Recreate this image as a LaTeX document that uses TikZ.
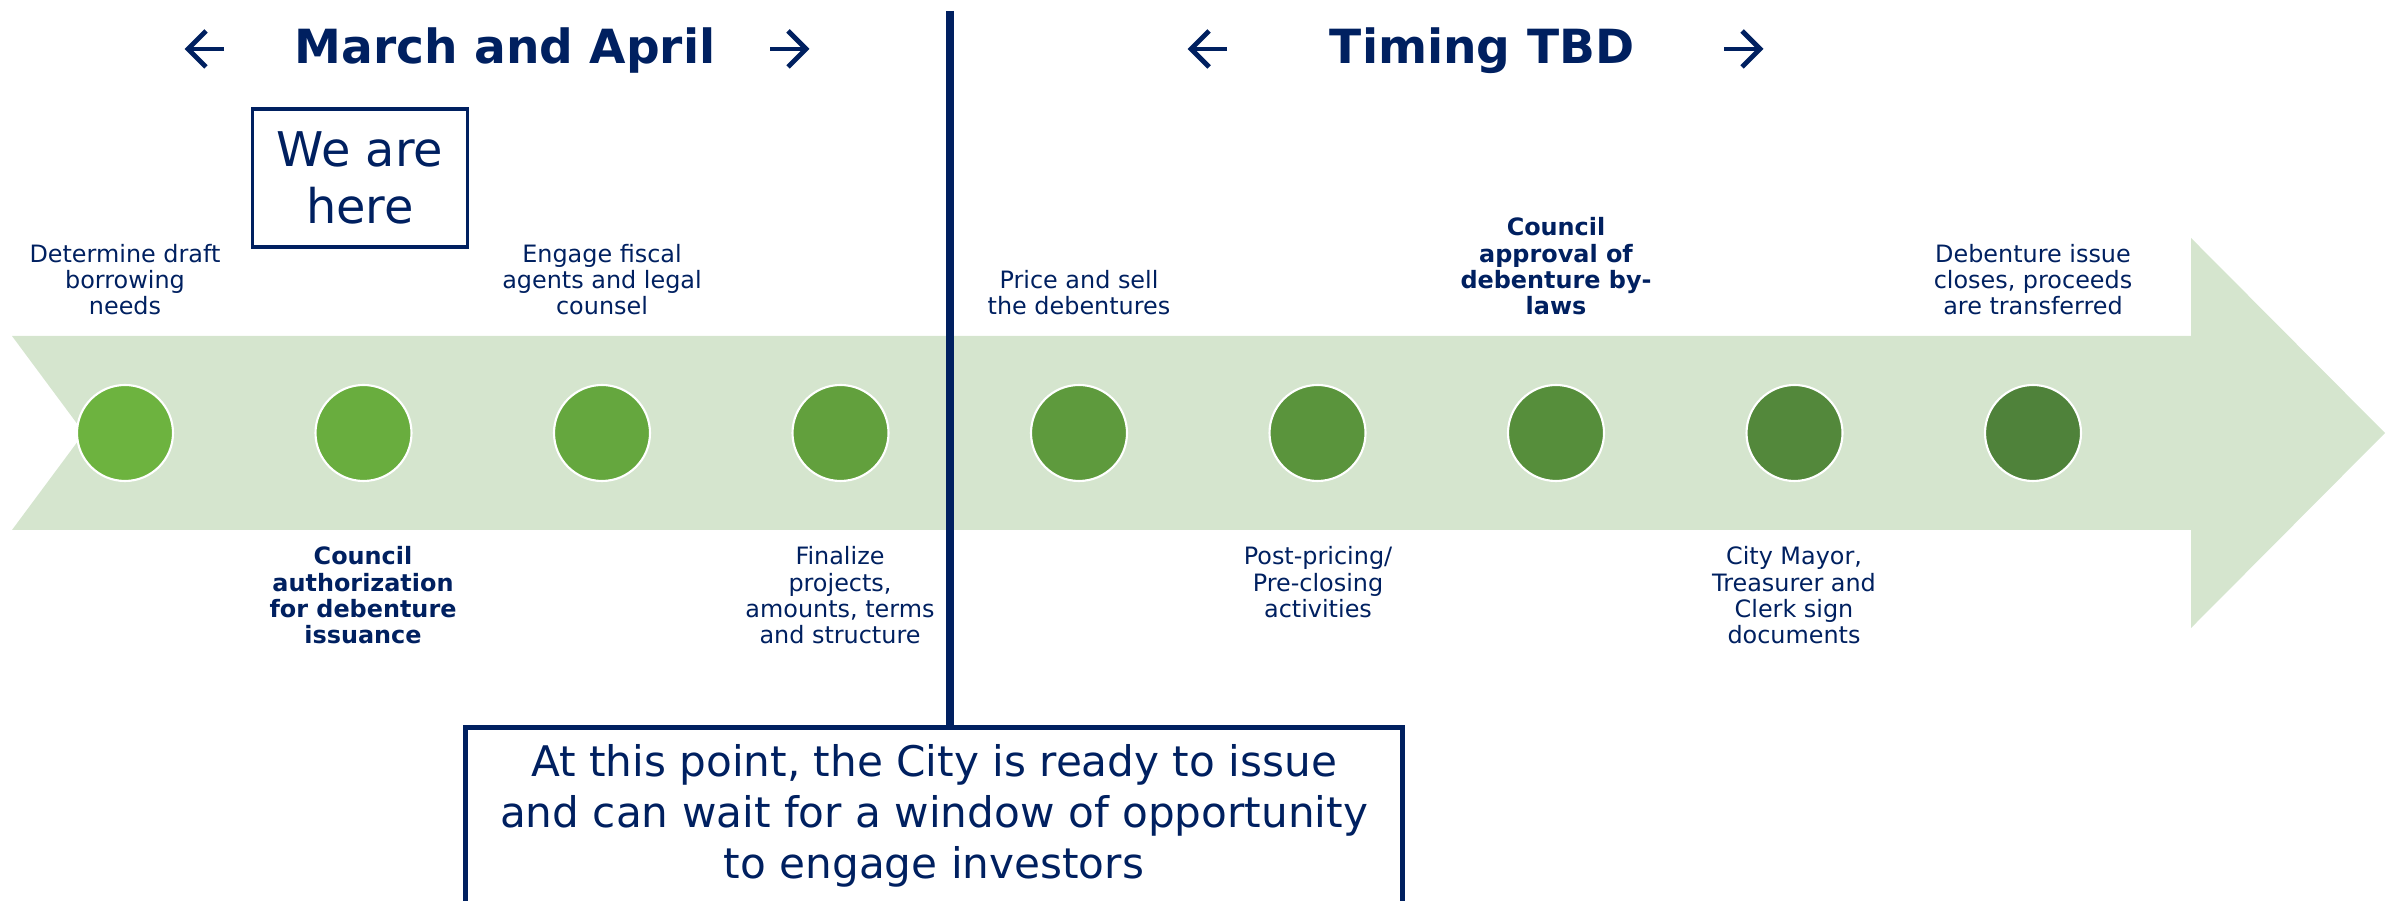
\documentclass[tikz,border=0pt]{standalone}
\usepackage{fontspec}
\setmainfont{DejaVu Sans}
\usetikzlibrary{positioning}
\definecolor{navy}{RGB}{0,32,96}
\definecolor{band}{RGB}{213,229,206}
\definecolor{dotfirst}{RGB}{109,179,63}
\definecolor{dotlast}{RGB}{79,130,58}

\begin{document}
\begin{tikzpicture}[x=0.1mm, y=-0.1mm,
    dot/.style={circle, fill=#1, draw=white, line width=0.6pt,
        minimum size=9.6mm, inner sep=0pt},
    lbl/.style={text=navy, align=center, inner sep=0pt,
        font=\fontsize{6.8}{7.5}\selectfont},
    head/.style={text=navy, inner sep=0pt,
        font=\fontsize{13.4}{16}\selectfont\bfseries},
    chevron/.style={draw=navy, line width=1.4pt, miter limit=4},
    frame/.style={draw=navy, text=navy, align=center, inner sep=0pt}]
    \useasboundingbox (0,0) rectangle (2394,901);
    % timeline arrow
    \fill[band] (12,336) -- (2191,336) -- (2191,238) -- (2385,433)
        -- (2191,628) -- (2191,530) -- (12,530) -- (84,433) -- cycle;
    % headings
    \node[head] (march) at (505,51) {March and April};
    \node[head] (tbd) at (1482,51) {Timing TBD};
    \foreach \x/\d in {205/1, 789/-1, 1208/1, 1743/-1}{
        \draw[chevron] (\x+19*\d,49) -- (\x-17*\d,49);
        \draw[chevron] (\x+1*\d,31) -- (\x-17*\d,49) -- (\x+1*\d,67);
    }
    % milestones
    \foreach \i in {0,...,8}{
        \pgfmathtruncatemacro\mix{100-12.5*\i}
        \node[dot=dotfirst!\mix!dotlast] (m\i) at (125+238.5*\i,433) {};
    }
    \node[lbl, anchor=south] (t0) at (125,316) {Determine draft\\borrowing\\needs};
    \node[lbl, anchor=south] (t2) at (602,316) {Engage fiscal\\agents and legal\\counsel};
    \node[lbl, anchor=south] (t4) at (1079,316) {Price and sell\\the debentures};
    \node[lbl, anchor=south, font=\fontsize{6.8}{7.5}\selectfont\bfseries]
        (t6) at (1556,316) {Council\\approval of\\debenture by-\\laws};
    \node[lbl, anchor=south] (t8) at (2033,316) {Debenture issue\\closes, proceeds\\are transferred};
    \node[lbl, anchor=north, font=\fontsize{6.8}{7.5}\selectfont\bfseries]
        (b1) at (363,546) {Council\\authorization\\for debenture\\issuance};
    \node[lbl, anchor=north] (b3) at (840,546) {Finalize\\projects,\\amounts, terms\\and structure};
    \node[lbl, anchor=north] (b5) at (1318,546) {Post-pricing/\\Pre-closing\\activities};
    \node[lbl, anchor=north] (b7) at (1794,546) {City Mayor,\\Treasurer and\\Clerk sign\\documents};
    % callouts
    \node[frame, line width=1.1pt, minimum width=21.5mm, minimum height=13.8mm,
        font=\fontsize{13.6}{16.2}\selectfont] (here) at (360,178) {We are\\here};
    \node[frame, line width=1.4pt, minimum width=93.7mm, minimum height=17.7mm,
        font=\fontsize{12}{14.5}\selectfont] (ready) at (934,816)
        {At this point, the City is ready to issue\\and can wait for a window of opportunity\\to engage investors};
    \coordinate (split) at (950,11);
    \draw[navy, line width=2.2pt] (split) -- (ready.north -| split);
\end{tikzpicture}
\end{document}
